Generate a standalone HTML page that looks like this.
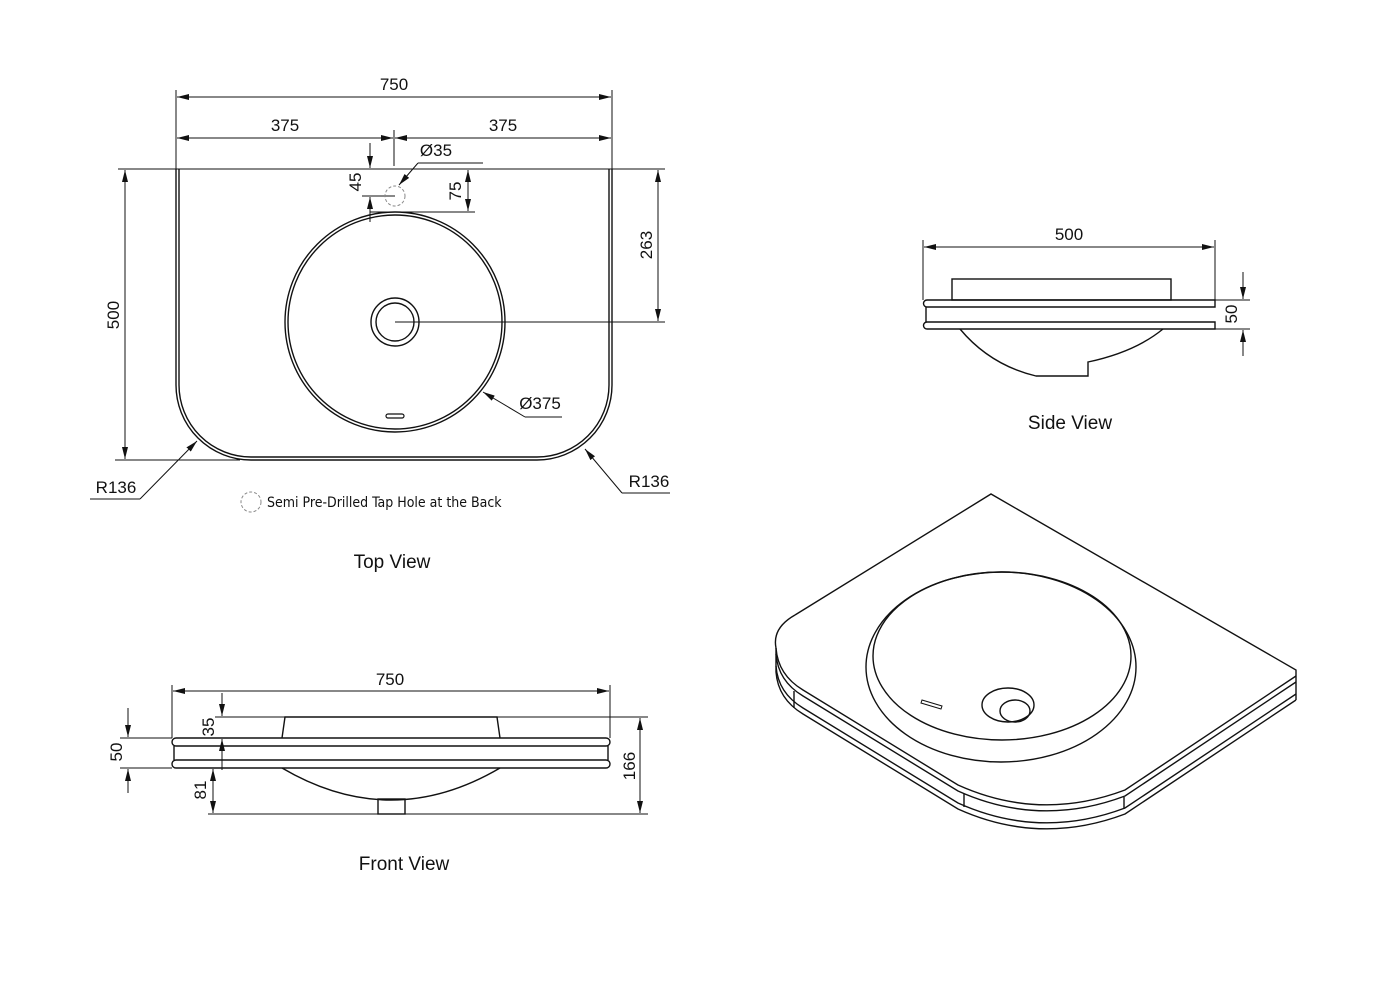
<!DOCTYPE html>
<html><head><meta charset="utf-8"><style>
html,body{margin:0;padding:0;background:#fff}
svg{display:block}
text{font-family:"Liberation Sans",Arial,sans-serif;fill:#111}
</style></head><body>
<svg width="1400" height="993" viewBox="0 0 1400 993" xmlns="http://www.w3.org/2000/svg">
<defs>
<marker id="a" viewBox="0 0 12 6" refX="12" refY="3" markerWidth="12" markerHeight="6" orient="auto-start-reverse" markerUnits="userSpaceOnUse"><path d="M0,0 L12,3 L0,6 z" fill="#111"/></marker>
</defs>
<g fill="none" stroke="#111" stroke-width="1">
<!-- TOP VIEW dims -->
<line x1="176" y1="90" x2="176" y2="169"/><line x1="612" y1="90" x2="612" y2="169"/>
<line x1="177" y1="97" x2="611" y2="97" marker-start="url(#a)" marker-end="url(#a)"/>
<line x1="177" y1="138" x2="393" y2="138" marker-start="url(#a)" marker-end="url(#a)"/>
<line x1="395" y1="138" x2="611" y2="138" marker-start="url(#a)" marker-end="url(#a)"/>
<line x1="394" y1="130" x2="394" y2="166"/>
<line x1="118" y1="169" x2="665" y2="169"/>
<line x1="370" y1="143" x2="370" y2="168" marker-end="url(#a)"/>
<line x1="370" y1="222" x2="370" y2="197" marker-end="url(#a)"/>
<line x1="362" y1="196" x2="395" y2="196"/>
<line x1="370" y1="212" x2="475" y2="212"/>
<line x1="468" y1="170" x2="468" y2="211" marker-start="url(#a)" marker-end="url(#a)"/>
<line x1="658" y1="170" x2="658" y2="321" marker-start="url(#a)" marker-end="url(#a)"/>
<line x1="395" y1="322" x2="665" y2="322"/>
<line x1="125" y1="170" x2="125" y2="459" marker-start="url(#a)" marker-end="url(#a)"/>
<line x1="115" y1="460" x2="240" y2="460"/>
<line x1="418" y1="163" x2="483" y2="163"/><line x1="418" y1="163" x2="399" y2="185" marker-end="url(#a)"/>
<line x1="525" y1="417" x2="562" y2="417"/><line x1="525" y1="417" x2="483" y2="392" marker-end="url(#a)"/>
<line x1="90" y1="499" x2="140" y2="499"/><line x1="140" y1="499" x2="197" y2="441" marker-end="url(#a)"/>
<line x1="622" y1="493" x2="670" y2="493"/><line x1="622" y1="493" x2="585" y2="449" marker-end="url(#a)"/>
<!-- Top outline double -->
<path d="M176,169 V385 A75,75 0 0 0 251,460 H537 A75,75 0 0 0 612,385 V169" stroke-width="1.4"/>
<path d="M179,169 V385 A72,72 0 0 0 251,457 H537 A72,72 0 0 0 609,385 V169" stroke-width="1.4"/>
<circle cx="395" cy="322" r="110" stroke-width="1.4"/>
<circle cx="395" cy="322" r="107" stroke-width="1.4"/>
<circle cx="395" cy="322" r="24" stroke-width="1.4"/>
<circle cx="395" cy="322" r="19" stroke-width="1.4"/>
<rect x="386" y="414" width="18" height="4" rx="2" stroke-width="1.2"/>
<circle cx="395" cy="196" r="10" stroke="#888" stroke-dasharray="3,2"/>
<circle cx="251" cy="502" r="10" stroke="#888" stroke-dasharray="3,2"/>

<!-- FRONT VIEW -->
<line x1="172" y1="685" x2="172" y2="738"/><line x1="610" y1="685" x2="610" y2="738"/>
<line x1="173" y1="691" x2="609" y2="691" marker-start="url(#a)" marker-end="url(#a)"/>
<line x1="215" y1="717" x2="648" y2="717"/>
<line x1="222" y1="693" x2="222" y2="716" marker-end="url(#a)"/>
<line x1="222" y1="770" x2="222" y2="739" marker-end="url(#a)"/>
<line x1="120" y1="738" x2="172" y2="738"/><line x1="120" y1="768" x2="172" y2="768"/>
<line x1="128" y1="708" x2="128" y2="737" marker-end="url(#a)"/>
<line x1="128" y1="793" x2="128" y2="769" marker-end="url(#a)"/>
<line x1="213" y1="769" x2="213" y2="813" marker-start="url(#a)" marker-end="url(#a)"/>
<line x1="208" y1="814" x2="648" y2="814"/>
<line x1="640" y1="718" x2="640" y2="813" marker-start="url(#a)" marker-end="url(#a)"/>
<path d="M282,738 L285,717 H497 L500,738" stroke-width="1.4"/>
<rect x="172" y="738" width="438" height="8" rx="4" stroke-width="1.4"/>
<line x1="174" y1="746" x2="174" y2="760" stroke-width="1.4"/><line x1="608" y1="746" x2="608" y2="760" stroke-width="1.4"/>
<rect x="172" y="760" width="438" height="8" rx="4" stroke-width="1.4"/>
<path d="M282,768 Q391,832 500,768" stroke-width="1.4"/>
<rect x="378" y="799" width="27" height="15" stroke-width="1.4"/>

<!-- SIDE VIEW -->
<line x1="923" y1="240" x2="923" y2="300"/><line x1="1215" y1="240" x2="1215" y2="300"/>
<line x1="924" y1="247" x2="1214" y2="247" marker-start="url(#a)" marker-end="url(#a)"/>
<line x1="1215" y1="300" x2="1250" y2="300"/><line x1="1215" y1="329" x2="1250" y2="329"/>
<line x1="1243" y1="272" x2="1243" y2="299" marker-end="url(#a)"/>
<line x1="1243" y1="356" x2="1243" y2="330" marker-end="url(#a)"/>
<rect x="952" y="279" width="219" height="21" stroke-width="1.4"/>
<path d="M1215,300 H927 A3.5,3.5 0 0 0 927,307 H1215 Z" stroke-width="1.4"/>
<line x1="926" y1="307" x2="926" y2="322" stroke-width="1.4"/>
<path d="M1215,322 H927 A3.5,3.5 0 0 0 927,329 H1215 Z" stroke-width="1.4"/>
<path d="M960,329 Q990,365 1036,376 H1088 V362 Q1135,352 1163,329" stroke-width="1.4"/>

<!-- ISOMETRIC -->
<path d="M795,615 L991,494 L1296,670 L1296,676" stroke-width="1.4"/>
<path d="M795,615 Q772,628 776,648" stroke-width="1.4"/>
<g stroke-width="1.4">
<path d="M776,648 Q778,675 803,690 L958,785 Q1040,822 1125,790 L1296,676"/>
<path d="M776,654 Q778,681 803,696 L958,791 Q1040,828 1125,796 L1296,682"/>
<path d="M776,666 Q778,693 803,708 L958,803 Q1040,840 1125,808 L1296,694"/>
<path d="M776,672 Q778,699 803,714 L958,809 Q1040,846 1125,814 L1296,700"/>
<line x1="776" y1="648" x2="776" y2="672"/>
<line x1="1296" y1="676" x2="1296" y2="700"/>
<line x1="794" y1="691" x2="794" y2="708"/>
<line x1="964" y1="794" x2="964" y2="807"/>
<line x1="1124" y1="797" x2="1124" y2="809"/>
<ellipse cx="1001" cy="667" rx="135" ry="95"/>
<ellipse cx="1002" cy="656" rx="129" ry="84"/>
<ellipse cx="1008" cy="705" rx="26" ry="17"/>
<ellipse cx="1015" cy="711" rx="15" ry="11"/>
<path d="M922,700 L942,706 L941,709 L921,703 Z" stroke-width="1"/>
</g>
</g>
<!-- TEXT -->
<g font-size="17" text-anchor="middle">
<text x="394" y="90">750</text>
<text x="285" y="131">375</text>
<text x="503" y="131">375</text>
<text x="436" y="156">Ø35</text>
<text x="540" y="409">Ø375</text>
<text x="116" y="493">R136</text>
<text x="649" y="487">R136</text>
<text transform="translate(361,182) rotate(-90)">45</text>
<text transform="translate(461,191) rotate(-90)">75</text>
<text transform="translate(652,245) rotate(-90)">263</text>
<text transform="translate(119,315) rotate(-90)">500</text>
<text x="390" y="685">750</text>
<text transform="translate(214,727) rotate(-90)">35</text>
<text transform="translate(122,752) rotate(-90)">50</text>
<text transform="translate(206,790) rotate(-90)">81</text>
<text transform="translate(635,766) rotate(-90)">166</text>
<text x="1069" y="240">500</text>
<text transform="translate(1237,314) rotate(-90)">50</text>
</g>
<text x="267" y="507" font-size="14" style="font-family:'DejaVu Sans Condensed','Liberation Sans',sans-serif">Semi Pre-Drilled Tap Hole at the Back</text>
<g font-size="19" text-anchor="middle">
<text x="392" y="568">Top View</text>
<text x="404" y="870">Front View</text>
<text x="1070" y="429">Side View</text>
</g>
</svg>
</body></html>
